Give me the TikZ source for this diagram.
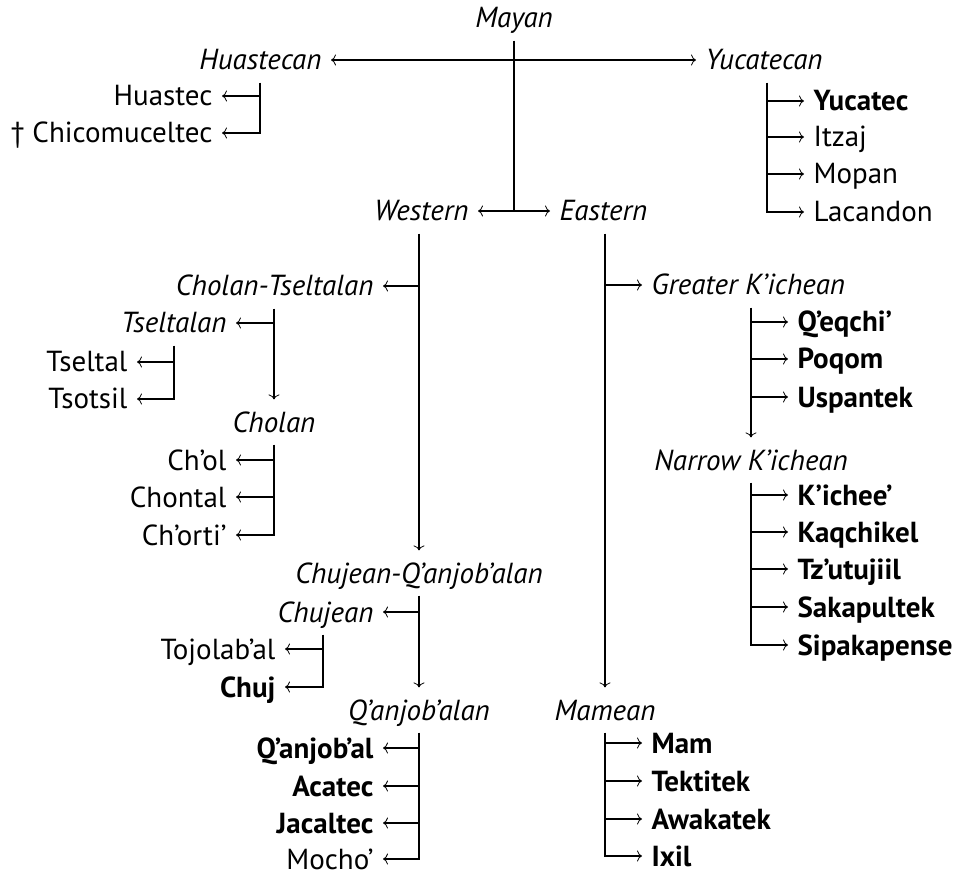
\documentclass[tikz,border=0pt]{standalone}
\usepackage{fontspec}
\setmainfont{PT Sans}
\usetikzlibrary{arrows.meta,calc}
\newcommand\myfs{\fontsize{29}{34}\selectfont}
\begin{document}
\begin{tikzpicture}[x=1pt,y=-1pt,
  line width=1.2pt,
  >={Computer Modern Rightarrow[length=5pt,width=11pt,line width=0.8pt]},
  every node/.style={inner xsep=9pt, inner ysep=11pt, text height=21pt, text depth=1pt, font=\myfs},
  grp/.style={font=\myfs\itshape},
  bl/.style={font=\myfs\bfseries},
  lc/.style={anchor=east},
  rc/.style={anchor=west}]
\useasboundingbox (0,0) rectangle (967,877);
% column coordinates
\coordinate (hx) at (260,0);
\coordinate (yx) at (767,0);
\coordinate (tx) at (174,0);
\coordinate (chx) at (323,0);
% top
\node[grp] (mayan) at (514,18) {Mayan};
\node[grp,lc] (huastecan) at (331,60) {Huastecan};
\node[grp,rc] (yucatecan) at (696,60) {Yucatecan};
\node[lc] (huastec) at (222,96) {Huastec};
\node[lc] (chicomuceltec) at (222,133) {† Chicomuceltec};
\node[bl,rc] (yucatec) at (804,101) {Yucatec};
\node[rc] (itzaj) at (804,137) {Itzaj};
\node[rc] (mopan) at (804,174) {Mopan};
\node[rc] (lacandon) at (804,212) {Lacandon};
\node[grp,lc] (western) at (478,211) {Western};
\node[grp,rc] (eastern) at (550,211) {Eastern};
% western
\node[grp,lc] (ct) at (383,286) {Cholan-Tseltalan};
\node[grp,lc] (tseltalan) at (236,323) {Tseltalan};
\node[lc] (tseltal) at (137,362) {Tseltal};
\node[lc] (tsotsil) at (137,399) {Tsotsil};
\node[grp] (cholan) at (274,422) {Cholan};
\node[lc] (chol) at (236,460) {Ch’ol};
\node[lc] (chontal) at (236,497) {Chontal};
\node[lc] (chorti) at (236,535) {Ch’orti’};
\node[grp] (cq) at (419,573) {Chujean-Q’anjob’alan};
\node[grp,lc] (chujean) at (383,612) {Chujean};
\node[lc] (tojolabal) at (285,649) {Tojolab’al};
\node[bl,lc] (chuj) at (285,687) {Chuj};
\node[grp] (qanjobalan) at (419,710) {Q’anjob’alan};
\node[bl,lc] (qanjobal) at (383,748) {Q’anjob’al};
\node[bl,lc] (acatec) at (383,786) {Acatec};
\node[bl,lc] (jacaltec) at (383,823) {Jacaltec};
\node[lc] (mocho) at (383,859) {Mocho’};
% eastern
\node[grp,rc] (gk) at (642,285) {Greater K’ichean};
\node[bl,rc] (qeqchi) at (788,322) {Q’eqchi’};
\node[bl,rc] (poqom) at (788,359) {Poqom};
\node[bl,rc] (uspantek) at (788,397) {Uspantek};
\node[grp] (nk) at (751,460) {Narrow K’ichean};
\node[bl,rc] (kichee) at (788,495) {K’ichee’};
\node[bl,rc] (kaqchikel) at (788,532) {Kaqchikel};
\node[bl,rc] (tzutujiil) at (788,569) {Tz’utujiil};
\node[bl,rc] (sakapultek) at (788,607) {Sakapultek};
\node[bl,rc] (sipakapense) at (788,645) {Sipakapense};
\node[grp] (mamean) at (605,710) {Mamean};
\node[bl,rc] (mam) at (642,743) {Mam};
\node[bl,rc] (tektitek) at (642,781) {Tektitek};
\node[bl,rc] (awakatek) at (642,819) {Awakatek};
\node[bl,rc] (ixil) at (642,856) {Ixil};
% connectors: root
\draw (mayan.south) -- (mayan.south |- western.east);
\draw[<->] (huastecan) -- (yucatecan);
\draw[<->] (western) -- (eastern);
% Huastecan
\draw[->] (hx |- huastecan.south) |- (chicomuceltec);
\draw[->] (hx |- huastec) -- (huastec);
% Yucatecan
\draw[->] (yx |- yucatecan.south) |- (lacandon);
\foreach \n in {yucatec,itzaj,mopan} \draw[->] (yx |- \n) -- (\n);
% Western
\draw[->] (cq |- western.south) -- (cq.north);
\draw[->] (cq |- ct) -- (ct);
\draw[->] (cholan |- ct.south) -- (cholan.north);
\draw[->] (cholan |- tseltalan) -- (tseltalan);
\draw[->] (tx |- tseltalan.south) |- (tsotsil);
\draw[->] (tx |- tseltal) -- (tseltal);
\draw[->] (cholan.south) |- (chorti);
\foreach \n in {chol,chontal} \draw[->] (cholan |- \n) -- (\n);
\draw[->] (cq.south) -- (qanjobalan.north);
\draw[->] (cq |- chujean) -- (chujean);
\draw[->] (chx |- chujean.south) |- (chuj);
\draw[->] (chx |- tojolabal) -- (tojolabal);
\draw[->] (qanjobalan.south) |- (mocho);
\foreach \n in {qanjobal,acatec,jacaltec} \draw[->] (qanjobalan |- \n) -- (\n);
% Eastern
\draw[->] (mamean |- eastern.south) -- (mamean.north);
\draw[->] (mamean |- gk) -- (gk);
\draw[->] (nk |- gk.south) -- (nk.north);
\foreach \n in {qeqchi,poqom,uspantek} \draw[->] (nk |- \n) -- (\n);
\draw[->] (nk.south) |- (sipakapense);
\foreach \n in {kichee,kaqchikel,tzutujiil,sakapultek} \draw[->] (nk |- \n) -- (\n);
\draw[->] (mamean.south) |- (ixil);
\foreach \n in {mam,tektitek,awakatek} \draw[->] (mamean |- \n) -- (\n);
\end{tikzpicture}
\end{document}
